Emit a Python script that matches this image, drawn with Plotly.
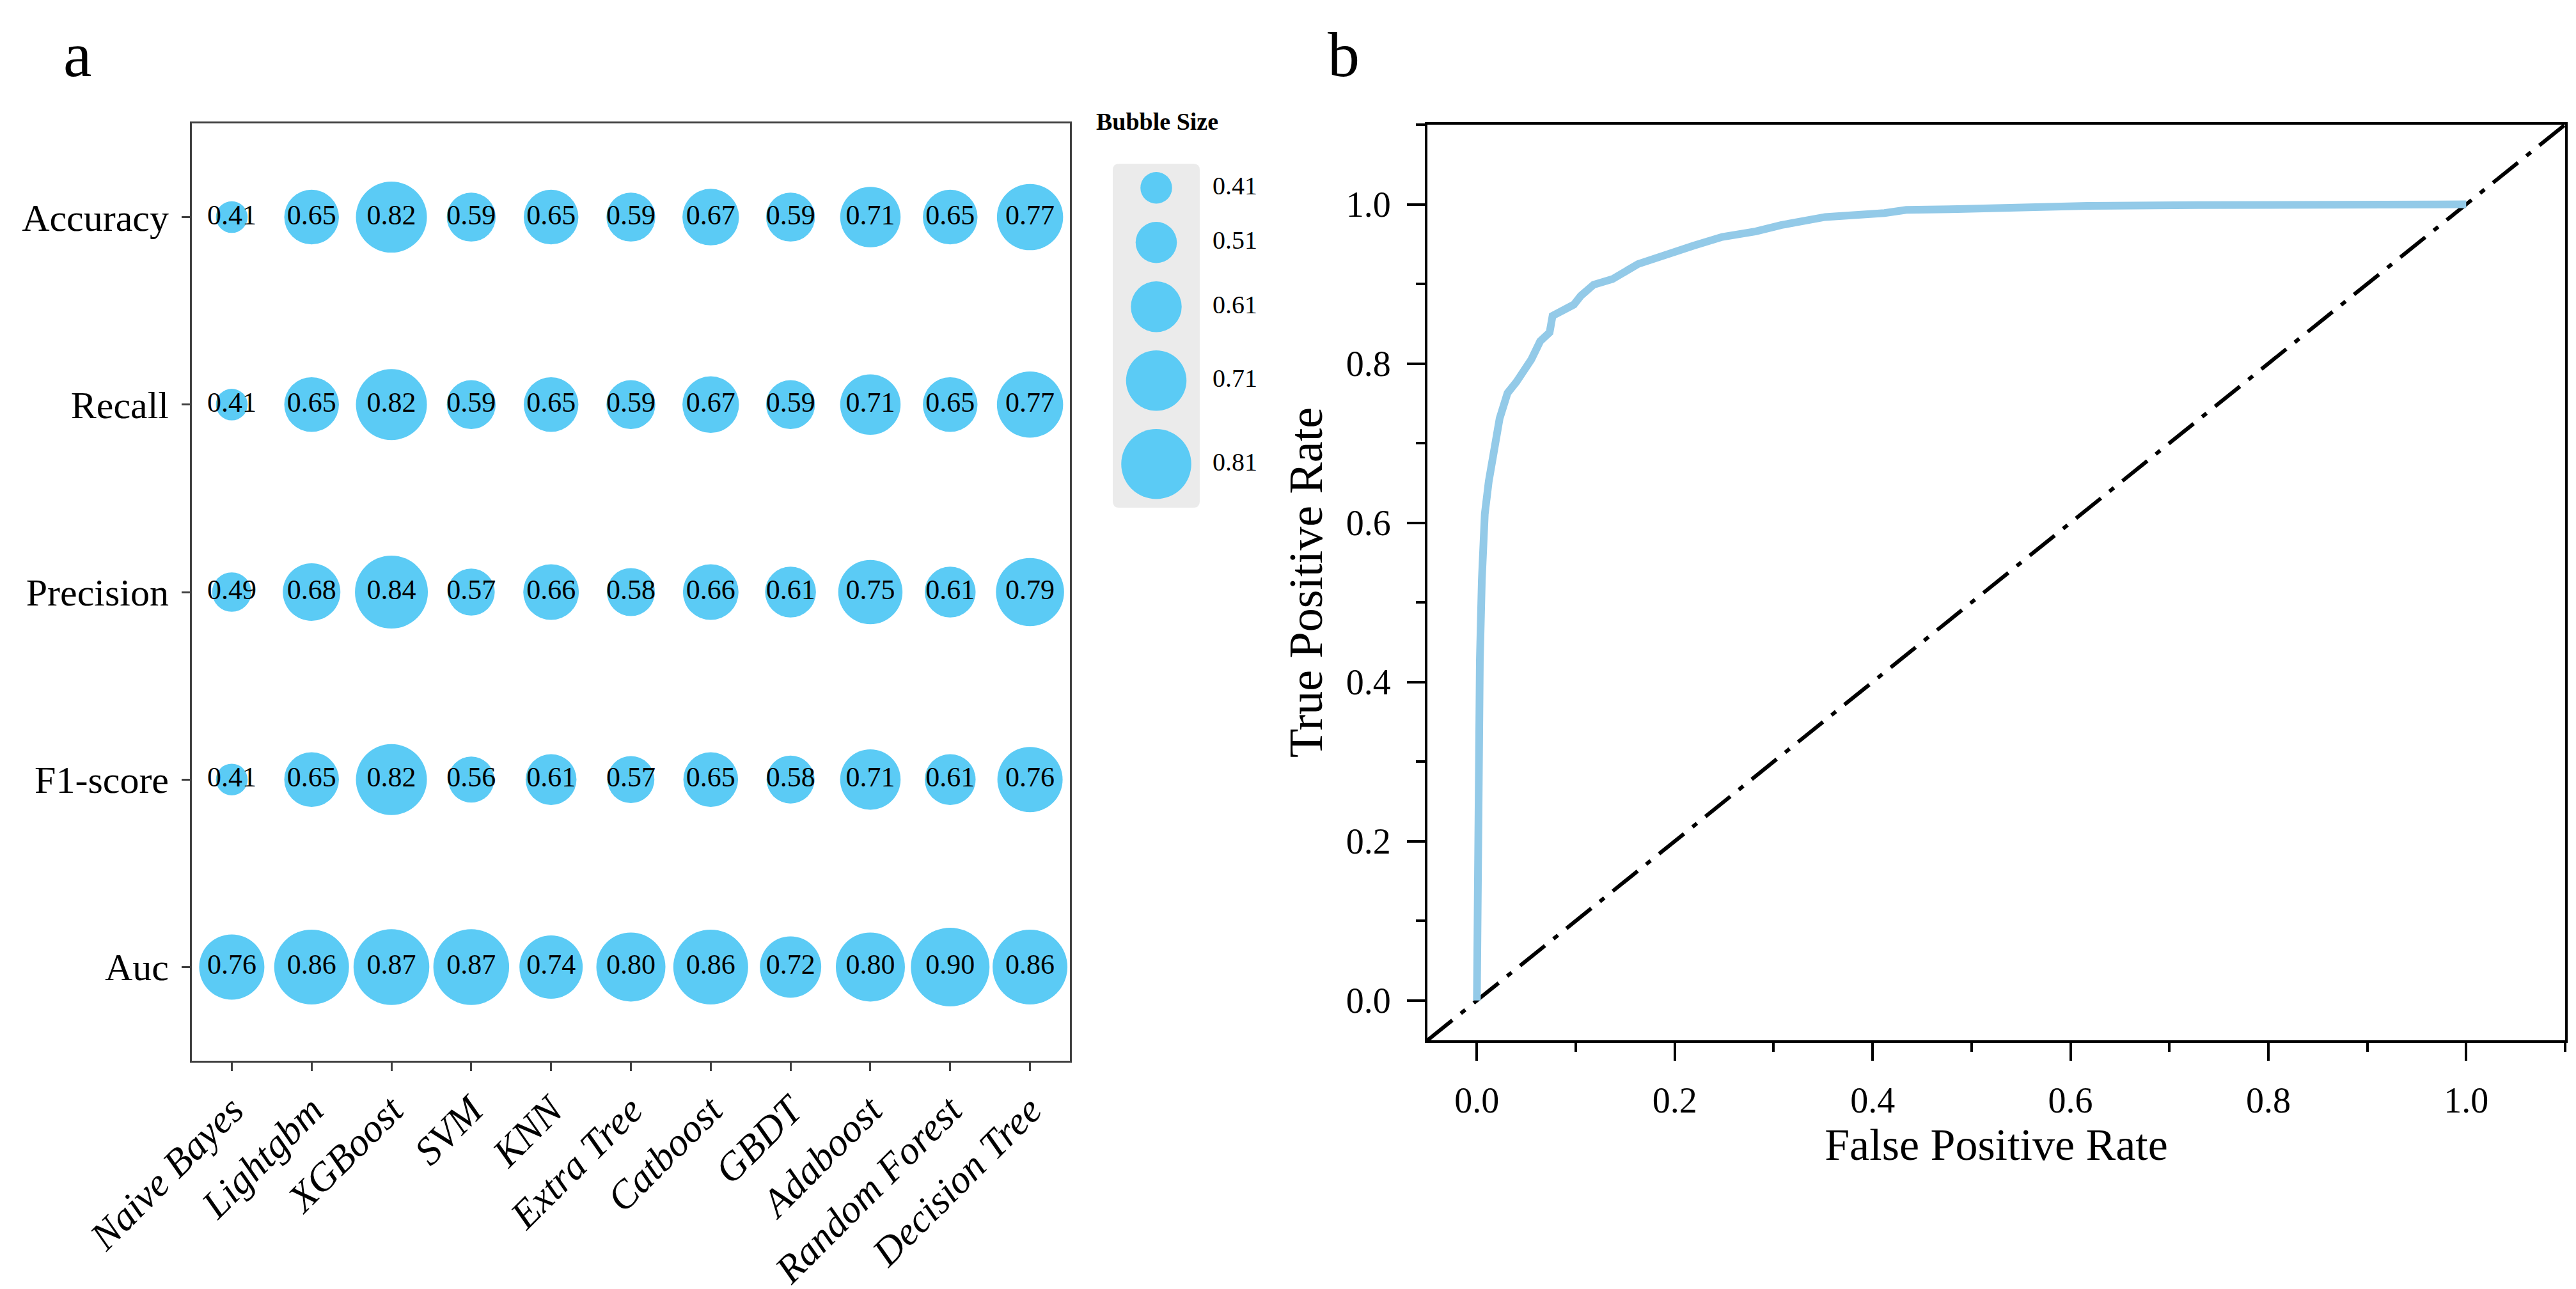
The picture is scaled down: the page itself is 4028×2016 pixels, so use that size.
import plotly.graph_objects as go

# --- CONFIGURATION ---
W, H = 4028, 2016
SERIF = "Times New Roman, Liberation Serif, serif"
BUBBLE_COLOR = "#5BCBF5"
ROC_COLOR = "#93CAE8"

# --- DATA: panel a (bubble matrix) ---
models = ["Naive Bayes", "Lightgbm", "XGBoost", "SVM", "KNN", "Extra Tree",
          "Catboost", "GBDT", "Adaboost", "Random Forest", "Decision Tree"]
metrics = ["Accuracy", "Recall", "Precision", "F1-score", "Auc"]
accuracy = [0.41, 0.65, 0.82, 0.59, 0.65, 0.59, 0.67, 0.59, 0.71, 0.65, 0.77]
recall = [0.41, 0.65, 0.82, 0.59, 0.65, 0.59, 0.67, 0.59, 0.71, 0.65, 0.77]
precision = [0.49, 0.68, 0.84, 0.57, 0.66, 0.58, 0.66, 0.61, 0.75, 0.61, 0.79]
f1_score = [0.41, 0.65, 0.82, 0.56, 0.61, 0.57, 0.65, 0.58, 0.71, 0.61, 0.76]
auc = [0.76, 0.86, 0.87, 0.87, 0.74, 0.80, 0.86, 0.72, 0.80, 0.90, 0.86]
legend_values = [0.41, 0.51, 0.61, 0.71, 0.81]

# --- DATA: panel b (ROC curve) ---
fpr = [0.0, 0.001, 0.003, 0.005, 0.008, 0.012, 0.018, 0.023, 0.031, 0.040,
       0.055, 0.064, 0.0735, 0.0765, 0.098, 0.105, 0.118, 0.137, 0.163, 0.192,
       0.219, 0.248, 0.282, 0.308, 0.352, 0.412, 0.434, 0.486, 0.549, 0.617,
       0.728, 1.0]
tpr = [0.0, 0.326, 0.427, 0.528, 0.611, 0.652, 0.689, 0.731, 0.763, 0.777,
       0.805, 0.828, 0.839, 0.860, 0.874, 0.885, 0.899, 0.906, 0.925, 0.938,
       0.948, 0.959, 0.966, 0.974, 0.984, 0.989, 0.993, 0.994, 0.996, 0.998,
       0.999, 1.0]
diag = [-0.05, 1.1]
roc_ticks = [0.0, 0.2, 0.4, 0.6, 0.8, 1.0]


def bubble_px(v):
    # marker diameter in pixels, linear in value
    return 150 * v - 12


def px_x(p):
    return p / W


def px_y(p):
    return 1 - p / H


def main():
    fig = go.Figure()

    # -------------------------------------------------------
    # Panel a: bubble matrix
    # -------------------------------------------------------
    rows = [accuracy, recall, precision, f1_score, auc]
    xs, ys, vals = [], [], []
    for metric, row in zip(metrics, rows):
        for model, v in zip(models, row):
            xs.append(model)
            ys.append(metric)
            vals.append(v)

    fig.add_trace(go.Scatter(
        x=xs, y=ys, mode="markers+text",
        text=[f"{v:.2f}" for v in vals],
        textposition="middle center",
        textfont=dict(family=SERIF, size=44, color="black"),
        marker=dict(size=[bubble_px(v) for v in vals], color=BUBBLE_COLOR,
                    opacity=1, line=dict(width=0)),
        xaxis="x", yaxis="y", showlegend=False, cliponaxis=False,
    ))

    # legend for bubble size (drawn on its own pixel-unit axes)
    sizes = [bubble_px(v) for v in legend_values]
    centers = [13 + sizes[0] / 2]
    for a, b in zip(sizes[:-1], sizes[1:]):
        centers.append(centers[-1] + (a + b) / 2 + 28.5)

    fig.add_trace(go.Scatter(
        x=[68] * len(legend_values), y=centers, mode="markers",
        marker=dict(size=sizes, color=BUBBLE_COLOR, opacity=1, line=dict(width=0)),
        xaxis="x3", yaxis="y3", showlegend=False, cliponaxis=False,
    ))
    fig.add_trace(go.Scatter(
        x=[156] * len(legend_values), y=centers, mode="text",
        text=[f"{v:.2f}" for v in legend_values],
        textposition="middle right",
        textfont=dict(family=SERIF, size=40, color="black"),
        xaxis="x3", yaxis="y3", showlegend=False, cliponaxis=False,
    ))

    # -------------------------------------------------------
    # Panel b: ROC curve
    # -------------------------------------------------------
    fig.add_trace(go.Scatter(
        x=diag, y=diag, mode="lines",
        line=dict(color="black", width=6, dash="50px,17px,9px,17px"),
        xaxis="x2", yaxis="y2", showlegend=False,
    ))
    fig.add_trace(go.Scatter(
        x=fpr, y=tpr, mode="lines",
        line=dict(color=ROC_COLOR, width=12),
        xaxis="x2", yaxis="y2", showlegend=False,
    ))

    left_axis = dict(showline=True, linecolor="#404040", linewidth=3, mirror=True,
                     ticks="outside", ticklen=13, tickwidth=3, tickcolor="#404040",
                     showgrid=False, zeroline=False, automargin=False)
    roc_axis = dict(showline=True, linecolor="black", linewidth=4, mirror=True,
                    ticks="outside", ticklen=28, tickwidth=4, tickcolor="black",
                    tickmode="array", tickvals=roc_ticks, tickformat=".1f",
                    minor=dict(dtick=0.1, tick0=0, ticks="outside", ticklen=14,
                               tickwidth=4, tickcolor="black"),
                    range=[-0.05, 1.1], showgrid=False, zeroline=False,
                    automargin=False,
                    tickfont=dict(family=SERIF, size=56, color="black"))

    fig.update_layout(
        width=W, height=H,
        margin=dict(l=0, r=0, t=0, b=0),
        paper_bgcolor="white", plot_bgcolor="white",
        font=dict(family=SERIF, color="black"),
        xaxis=dict(left_axis, domain=[px_x(292), px_x(1665)], anchor="y",
                   type="category", categoryorder="array", categoryarray=models,
                   range=[-0.5, 10.5], tickangle=-45,
                   tickfont=dict(family=SERIF, size=62, style="italic", color="black")),
        yaxis=dict(left_axis, domain=[px_y(1651), px_y(185)], anchor="x",
                   type="category", categoryorder="array", categoryarray=metrics,
                   range=[4.5, -0.5], ticklabelstandoff=8,
                   tickfont=dict(family=SERIF, size=60, color="black")),
        xaxis2=dict(roc_axis, domain=[px_x(2224), px_x(4003)], anchor="y2",
                    ticklabelstandoff=14,
                    title=dict(text="False Positive Rate", standoff=10,
                               font=dict(family=SERIF, size=70, color="black"))),
        yaxis2=dict(roc_axis, domain=[px_y(1619), px_y(187)], anchor="x2",
                    ticklabelstandoff=14,
                    title=dict(text="True Positive Rate", standoff=14,
                               font=dict(family=SERIF, size=74, color="black"))),
        xaxis3=dict(domain=[px_x(1732), px_x(1980)], range=[0, 248], anchor="y3",
                    visible=False, fixedrange=True, automargin=False),
        yaxis3=dict(domain=[px_y(786), px_y(248)], range=[538, 0], anchor="x3",
                    visible=False, fixedrange=True, automargin=False),
        shapes=[dict(
            type="path", xref="x3", yref="y3", layer="below",
            path="M 10,0 L 126,0 Q 136,0 136,10 L 136,528 Q 136,538 126,538 "
                 "L 10,538 Q 0,538 0,528 L 0,10 Q 0,0 10,0 Z",
            fillcolor="#EBEBEB", line=dict(width=0),
        )],
        annotations=[
            dict(text="<b>Bubble Size</b>", x=px_x(1801), y=px_y(182),
                 xref="paper", yref="paper", showarrow=False,
                 xanchor="center", yanchor="middle",
                 font=dict(family=SERIF, size=38, color="black")),
            dict(text="a", x=px_x(113), y=px_y(135), xref="paper", yref="paper",
                 showarrow=False, xanchor="center", yanchor="bottom",
                 font=dict(family=SERIF, size=100, color="black")),
            dict(text="b", x=px_x(2093), y=px_y(135), xref="paper", yref="paper",
                 showarrow=False, xanchor="center", yanchor="bottom",
                 font=dict(family=SERIF, size=100, color="black")),
        ],
    )

    fig.write_html("out.html")


if __name__ == "__main__":
    main()
